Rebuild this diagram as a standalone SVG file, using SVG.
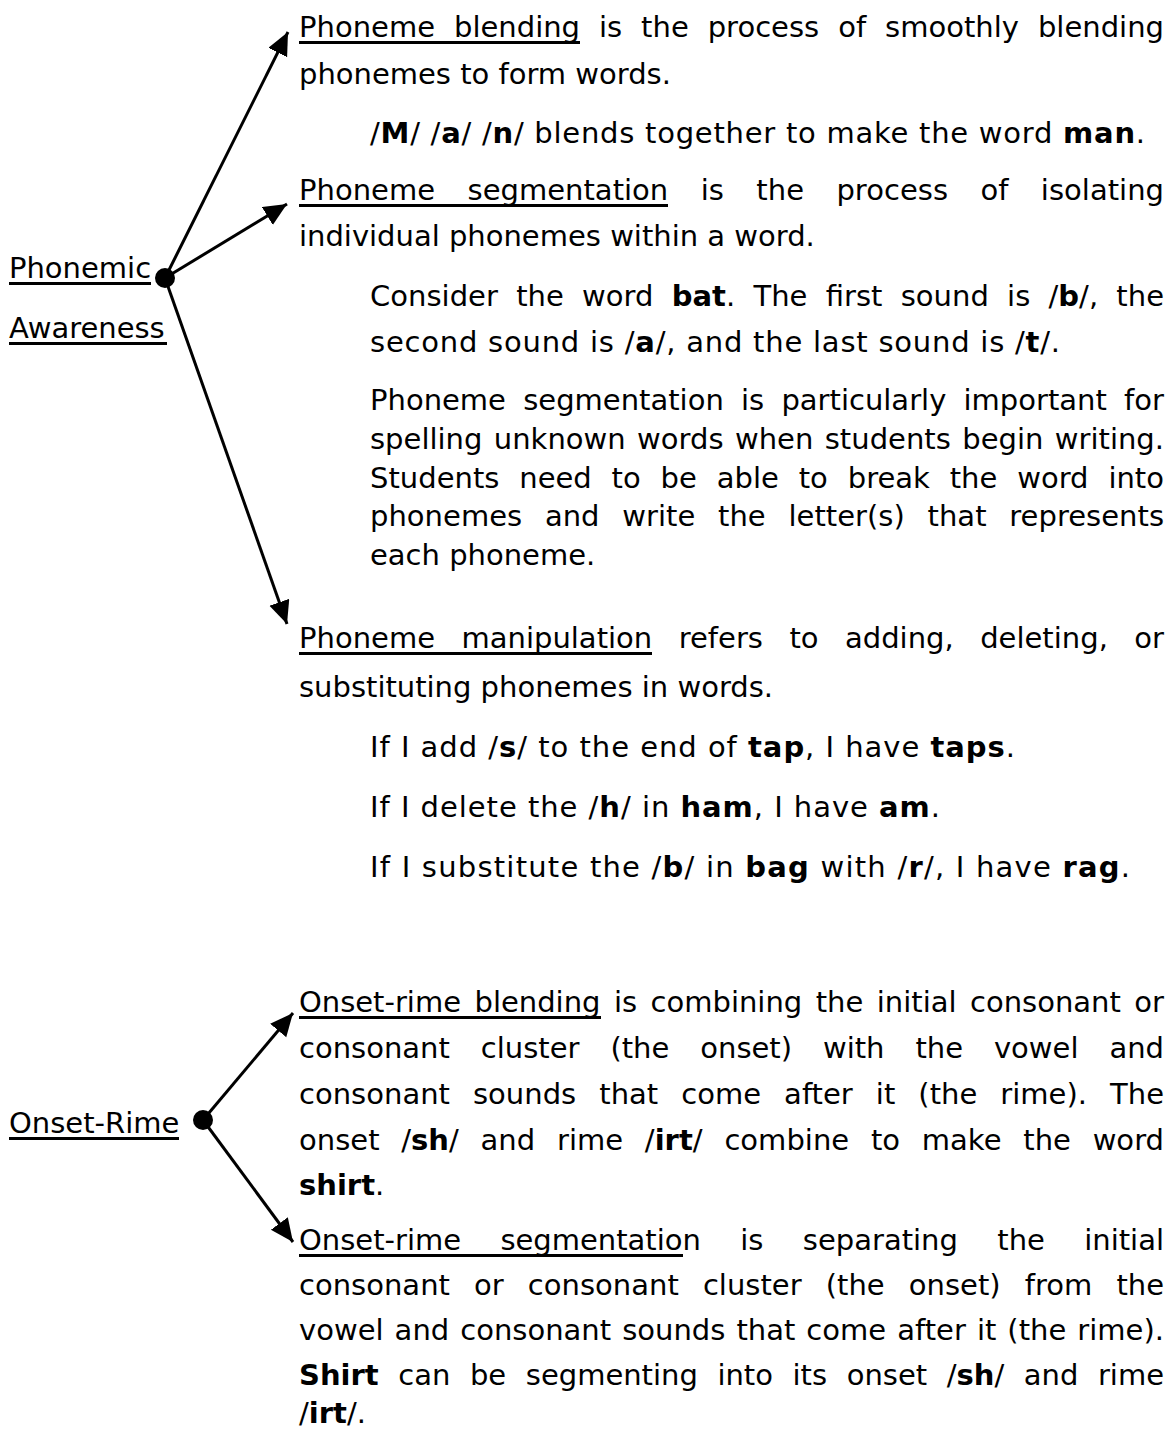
<svg xmlns="http://www.w3.org/2000/svg" width="1171" height="1432" viewBox="0 0 1171 1432">
<defs>
<style>
text{font-family:"DejaVu Sans","Liberation Sans",sans-serif;font-size:29px;fill:#000}
.b{font-weight:bold}
.ul{stroke:#000;stroke-width:3}
.conn line{stroke:#000;stroke-width:3}
</style>
<marker id="ah" markerUnits="userSpaceOnUse" markerWidth="25" markerHeight="22" refX="23" refY="10.5" orient="auto">
<path d="M0,0 L23,10.5 L0,21 z" fill="#000"/>
</marker>
</defs>
<rect width="1171" height="1432" fill="#fff"/>
<g id="connectors" class="conn">
<line x1="165" y1="278" x2="288" y2="32" marker-end="url(#ah)"/>
<line x1="165" y1="278" x2="287" y2="204" marker-end="url(#ah)"/>
<line x1="165" y1="278" x2="287" y2="624" marker-end="url(#ah)"/>
<line x1="203" y1="1120" x2="293" y2="1013" marker-end="url(#ah)"/>
<line x1="203" y1="1120" x2="293" y2="1242" marker-end="url(#ah)"/>
</g>
<g id="phonemic-awareness">
<circle cx="165" cy="278" r="10" fill="#000"/>
<text x="9" y="278">Phonemic</text>
<line class="ul" x1="9" y1="283.5" x2="151" y2="283.5"/>
<text x="9" y="338">Awareness</text>
<line class="ul" x1="9" y1="343.5" x2="167" y2="343.5"/>
</g>
<g id="phoneme-blending">
<text x="299" y="37" word-spacing="9.7" textLength="865" lengthAdjust="spacing">Phoneme blending is the process of smoothly blending</text>
<line class="ul" x1="299" y1="42.5" x2="580" y2="42.5"/>
<text x="299" y="84">phonemes to form words.</text>
<text x="370" y="143" textLength="775" lengthAdjust="spacing">/<tspan class="b">M</tspan>/ /<tspan class="b">a</tspan>/ /<tspan class="b">n</tspan>/ blends together to make the word <tspan class="b">man</tspan>.</text>
</g>
<g id="phoneme-segmentation">
<text x="299" y="200" word-spacing="23.2" textLength="865" lengthAdjust="spacing">Phoneme segmentation is the process of isolating</text>
<line class="ul" x1="299" y1="205.5" x2="668" y2="205.5"/>
<text x="299" y="246">individual phonemes within a word.</text>
<text x="370" y="306" word-spacing="9" textLength="794" lengthAdjust="spacing">Consider the word <tspan class="b">bat</tspan>. The first sound is /<tspan class="b">b</tspan>/, the</text>
<text x="370" y="352" textLength="690" lengthAdjust="spacing">second sound is /<tspan class="b">a</tspan>/, and the last sound is /<tspan class="b">t</tspan>/.</text>
<text x="370" y="410" word-spacing="8" textLength="794" lengthAdjust="spacing">Phoneme segmentation is particularly important for</text>
<text x="370" y="449" word-spacing="2.2" textLength="794" lengthAdjust="spacing">spelling unknown words when students begin writing.</text>
<text x="370" y="488" word-spacing="10.6" textLength="794" lengthAdjust="spacing">Students need to be able to break the word into</text>
<text x="370" y="526" word-spacing="13.5" textLength="794" lengthAdjust="spacing">phonemes and write the letter(s) that represents</text>
<text x="370" y="565">each phoneme.</text>
</g>
<g id="phoneme-manipulation">
<text x="299" y="648" word-spacing="17.2" textLength="865" lengthAdjust="spacing">Phoneme manipulation refers to adding, deleting, or</text>
<line class="ul" x1="299" y1="653.5" x2="652" y2="653.5"/>
<text x="299" y="697">substituting phonemes in words.</text>
<text x="370" y="757" textLength="645" lengthAdjust="spacing">If I add /<tspan class="b">s</tspan>/ to the end of <tspan class="b">tap</tspan>, I have <tspan class="b">taps</tspan>.</text>
<text x="370" y="817" textLength="570" lengthAdjust="spacing">If I delete the /<tspan class="b">h</tspan>/ in <tspan class="b">ham</tspan>, I have <tspan class="b">am</tspan>.</text>
<text x="370" y="877" textLength="760" lengthAdjust="spacing">If I substitute the /<tspan class="b">b</tspan>/ in <tspan class="b">bag</tspan> with /<tspan class="b">r</tspan>/, I have <tspan class="b">rag</tspan>.</text>
</g>
<g id="onset-rime">
<circle cx="203" cy="1120" r="10" fill="#000"/>
<text x="9" y="1133">Onset-Rime</text>
<line class="ul" x1="9" y1="1138.5" x2="179" y2="1138.5"/>
</g>
<g id="onset-rime-blending">
<text x="299" y="1012" word-spacing="4.3" textLength="865" lengthAdjust="spacing">Onset-rime blending is combining the initial consonant or</text>
<line class="ul" x1="299" y1="1017.5" x2="601" y2="1017.5"/>
<text x="299" y="1058" word-spacing="21.7" textLength="865" lengthAdjust="spacing">consonant cluster (the onset) with the vowel and</text>
<text x="299" y="1104" word-spacing="13.8" textLength="865" lengthAdjust="spacing">consonant sounds that come after it (the rime). The</text>
<text x="299" y="1150" word-spacing="12.5" textLength="865" lengthAdjust="spacing">onset /<tspan class="b">sh</tspan>/ and rime /<tspan class="b">irt</tspan>/ combine to make the word</text>
<text x="299" y="1195"><tspan class="b">shirt</tspan>.</text>
</g>
<g id="onset-rime-segmentation">
<text x="299" y="1250" word-spacing="30.2" textLength="865" lengthAdjust="spacing">Onset-rime segmentation is separating the initial</text>
<line class="ul" x1="299" y1="1255.5" x2="683" y2="1255.5"/>
<text x="299" y="1295" word-spacing="14.9" textLength="865" lengthAdjust="spacing">consonant or consonant cluster (the onset) from the</text>
<text x="299" y="1340" word-spacing="1.8" textLength="865" lengthAdjust="spacing">vowel and consonant sounds that come after it (the rime).</text>
<text x="299" y="1385" word-spacing="10.4" textLength="865" lengthAdjust="spacing"><tspan class="b">Shirt</tspan> can be segmenting into its onset /<tspan class="b">sh</tspan>/ and rime</text>
<text x="299" y="1423">/<tspan class="b">irt</tspan>/.</text>
</g>
</svg>
